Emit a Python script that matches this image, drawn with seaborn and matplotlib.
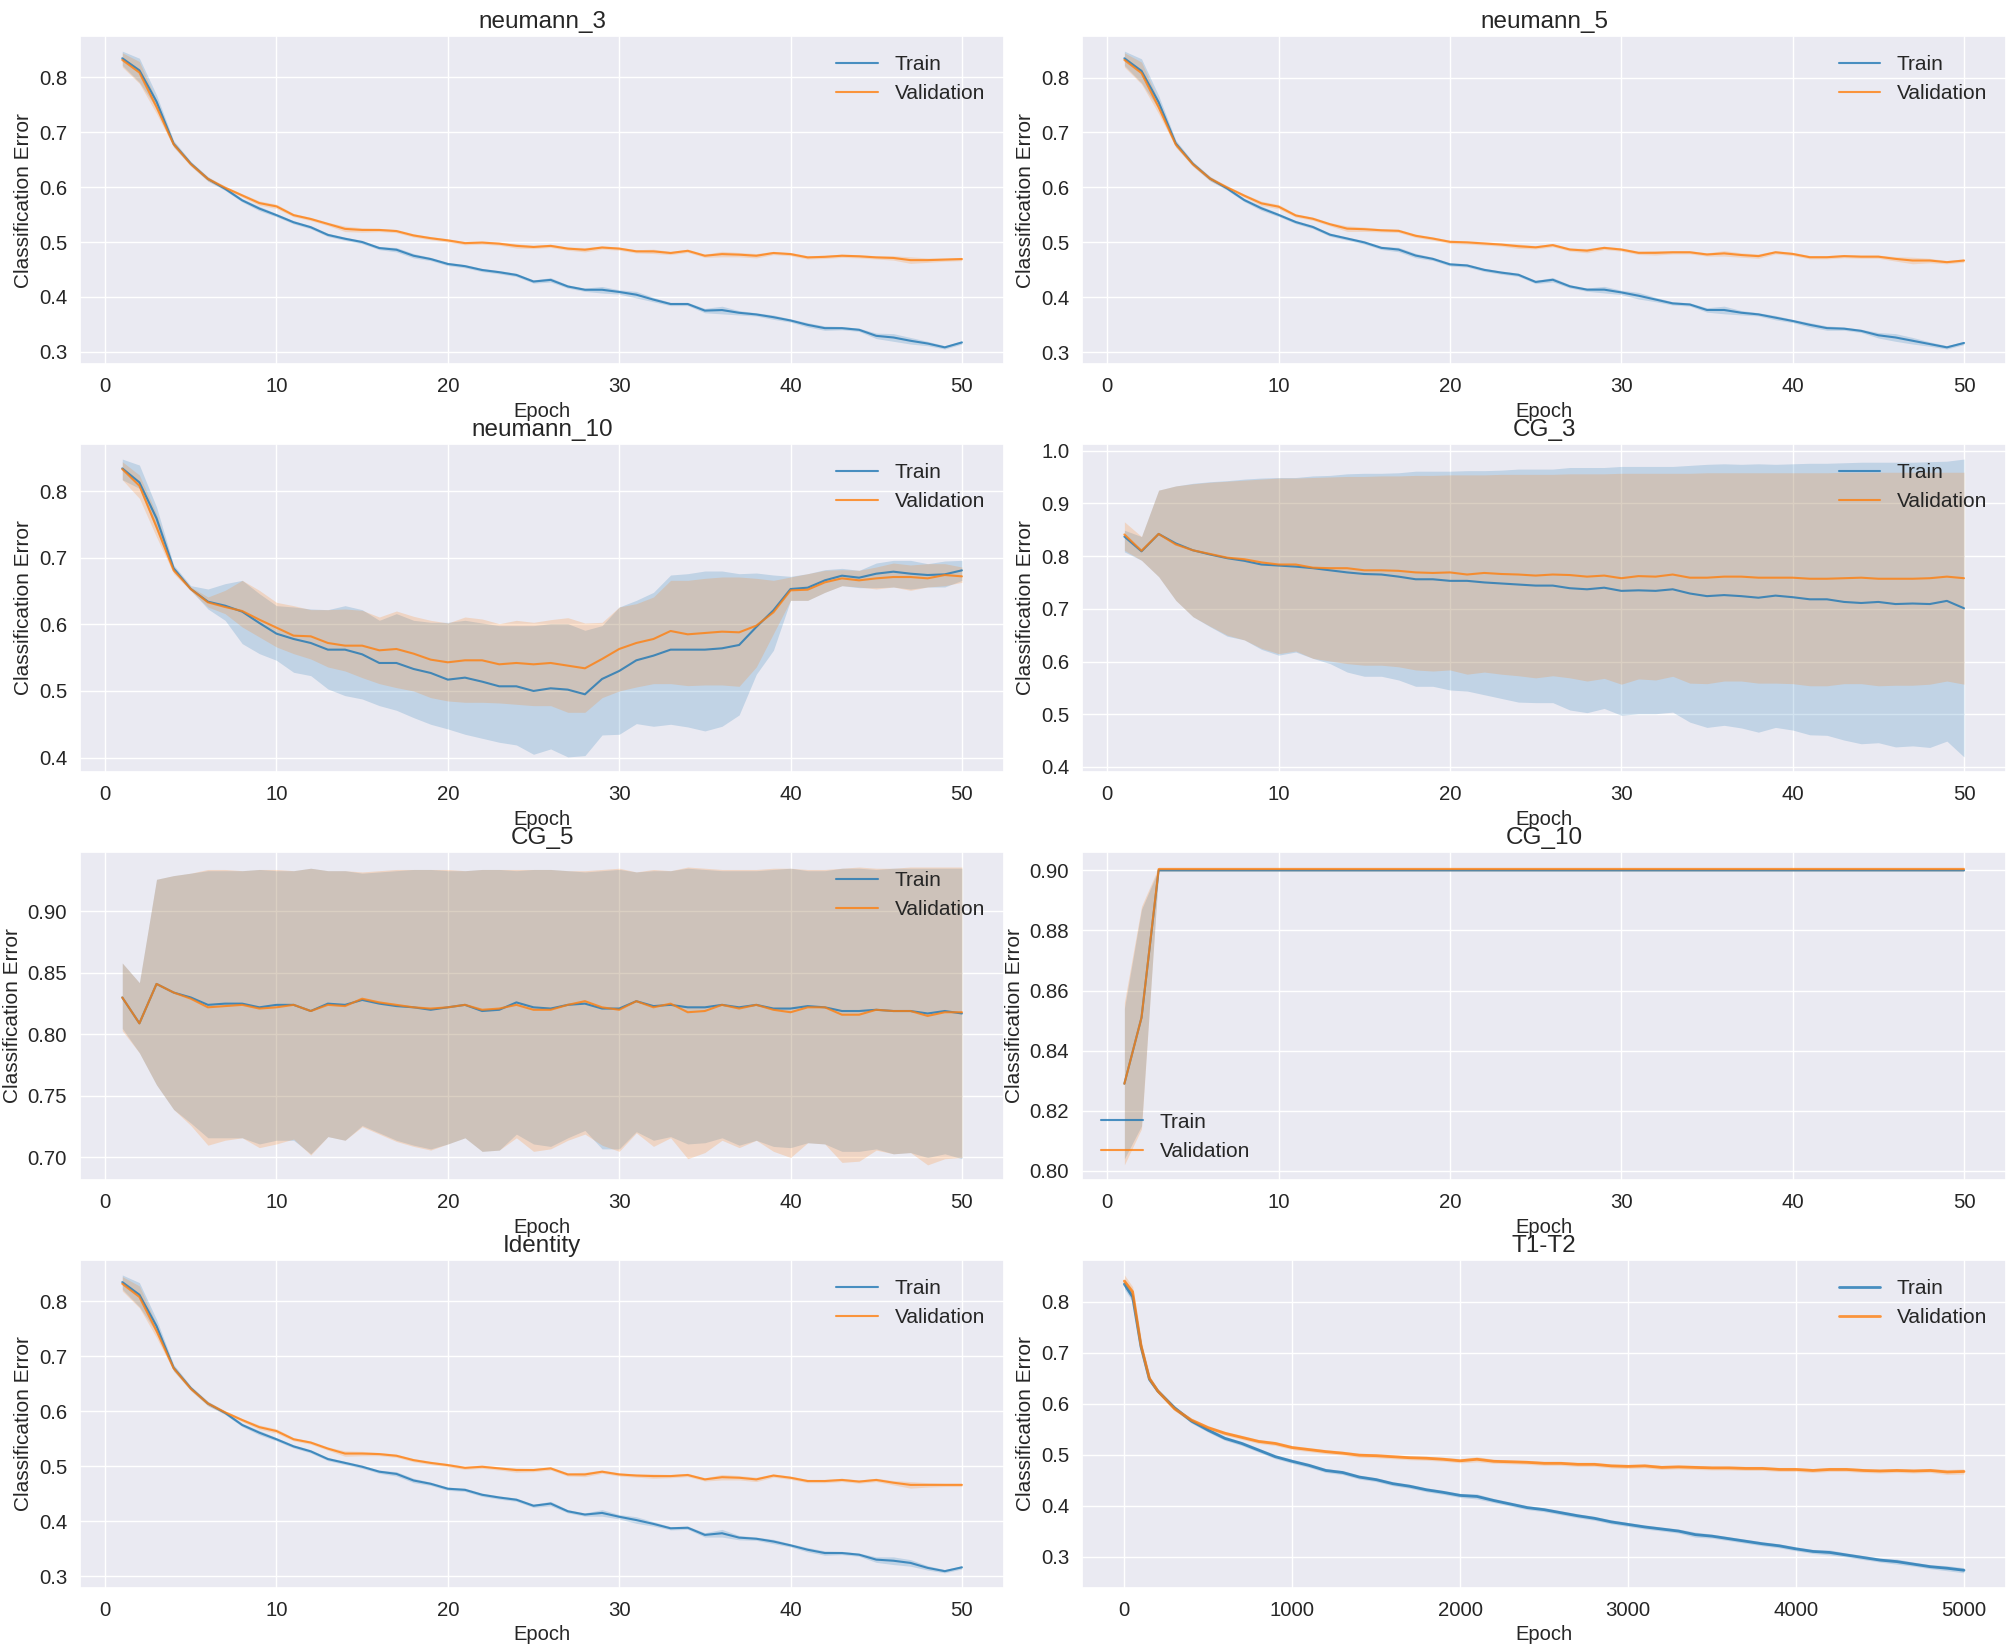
import numpy as np
import pandas as pd
import matplotlib
matplotlib.use("Agg")
import matplotlib.pyplot as plt
import seaborn as sns

# ---- data ----
epochs = list(range(1, 51))

# neumann_3
n3_train = [0.835, 0.813, 0.756, 0.679, 0.643, 0.615, 0.597, 0.576, 0.561, 0.549,
            0.536, 0.527, 0.513, 0.506, 0.500, 0.489, 0.486, 0.475, 0.469, 0.460,
            0.456, 0.449, 0.445, 0.440, 0.428, 0.431, 0.419, 0.413, 0.413, 0.409,
            0.404, 0.395, 0.387, 0.387, 0.375, 0.376, 0.371, 0.368, 0.363, 0.357,
            0.349, 0.343, 0.343, 0.340, 0.329, 0.326, 0.320, 0.315, 0.308, 0.317]
n3_val = [0.832, 0.809, 0.746, 0.678, 0.642, 0.615, 0.599, 0.585, 0.571, 0.565,
          0.549, 0.542, 0.533, 0.524, 0.522, 0.522, 0.520, 0.512, 0.507, 0.503,
          0.498, 0.499, 0.497, 0.493, 0.491, 0.493, 0.488, 0.486, 0.490, 0.488,
          0.483, 0.483, 0.480, 0.484, 0.475, 0.478, 0.477, 0.475, 0.480, 0.478,
          0.472, 0.473, 0.475, 0.474, 0.472, 0.471, 0.467, 0.467, 0.468, 0.469]

# neumann_5
n5_train = [0.835, 0.812, 0.755, 0.680, 0.643, 0.616, 0.598, 0.577, 0.562, 0.550,
            0.537, 0.528, 0.514, 0.507, 0.500, 0.490, 0.487, 0.476, 0.470, 0.460,
            0.458, 0.450, 0.445, 0.441, 0.428, 0.432, 0.420, 0.414, 0.414, 0.409,
            0.403, 0.396, 0.389, 0.387, 0.377, 0.377, 0.372, 0.369, 0.363, 0.357,
            0.350, 0.344, 0.343, 0.339, 0.331, 0.327, 0.321, 0.315, 0.309, 0.317]
n5_val = [0.832, 0.808, 0.746, 0.678, 0.642, 0.616, 0.600, 0.585, 0.571, 0.565,
          0.549, 0.543, 0.533, 0.525, 0.524, 0.522, 0.521, 0.512, 0.507, 0.501,
          0.500, 0.498, 0.496, 0.493, 0.491, 0.495, 0.487, 0.485, 0.490, 0.487,
          0.481, 0.481, 0.482, 0.482, 0.478, 0.480, 0.477, 0.475, 0.482, 0.479,
          0.473, 0.473, 0.475, 0.474, 0.474, 0.470, 0.467, 0.467, 0.464, 0.467]

# Identity
id_train = [0.835, 0.812, 0.755, 0.679, 0.642, 0.614, 0.597, 0.575, 0.561, 0.549,
            0.536, 0.527, 0.513, 0.506, 0.499, 0.490, 0.486, 0.474, 0.468, 0.459,
            0.457, 0.448, 0.443, 0.439, 0.428, 0.432, 0.418, 0.412, 0.415, 0.408,
            0.402, 0.395, 0.387, 0.388, 0.375, 0.378, 0.370, 0.368, 0.363, 0.356,
            0.348, 0.342, 0.342, 0.339, 0.330, 0.328, 0.324, 0.315, 0.309, 0.316]
id_val = [0.832, 0.808, 0.746, 0.678, 0.641, 0.614, 0.598, 0.584, 0.571, 0.564,
          0.549, 0.543, 0.532, 0.523, 0.523, 0.522, 0.519, 0.511, 0.506, 0.502,
          0.497, 0.499, 0.496, 0.493, 0.493, 0.496, 0.485, 0.485, 0.490, 0.485,
          0.483, 0.482, 0.482, 0.484, 0.476, 0.480, 0.479, 0.476, 0.483, 0.479,
          0.473, 0.473, 0.475, 0.472, 0.475, 0.470, 0.466, 0.466, 0.466, 0.466]

# half widths of the (narrow) bands, same look in neumann_3 / neumann_5 / Identity
narrow_train_w = [0.013, 0.022, 0.012, 0.006, 0.004, 0.004, 0.003, 0.003, 0.004, 0.003,
                  0.003, 0.003, 0.003, 0.003, 0.003, 0.003, 0.004, 0.004, 0.003, 0.003,
                  0.003, 0.003, 0.003, 0.003, 0.003, 0.004, 0.003, 0.003, 0.006, 0.004,
                  0.006, 0.004, 0.003, 0.003, 0.004, 0.007, 0.004, 0.003, 0.004, 0.003,
                  0.004, 0.004, 0.003, 0.003, 0.005, 0.007, 0.006, 0.004, 0.003, 0.003]
narrow_val_w = [0.013, 0.020, 0.012, 0.005, 0.004, 0.004, 0.003, 0.003, 0.004, 0.004,
                0.003, 0.003, 0.003, 0.005, 0.004, 0.003, 0.003, 0.003, 0.003, 0.003,
                0.003, 0.003, 0.003, 0.004, 0.003, 0.003, 0.003, 0.004, 0.003, 0.003,
                0.003, 0.004, 0.003, 0.003, 0.003, 0.005, 0.004, 0.004, 0.003, 0.003,
                0.003, 0.003, 0.003, 0.003, 0.003, 0.004, 0.006, 0.004, 0.003, 0.003]

# neumann_10
n10_train = [0.834, 0.813, 0.759, 0.684, 0.653, 0.634, 0.628, 0.619, 0.602, 0.586,
             0.578, 0.572, 0.562, 0.562, 0.555, 0.542, 0.542, 0.533, 0.527, 0.517,
             0.520, 0.514, 0.507, 0.507, 0.500, 0.504, 0.502, 0.495, 0.518, 0.530,
             0.546, 0.553, 0.562, 0.562, 0.562, 0.564, 0.569, 0.596, 0.621, 0.653,
             0.655, 0.666, 0.673, 0.670, 0.676, 0.679, 0.676, 0.674, 0.675, 0.681]
n10_train_lo = [0.817, 0.804, 0.741, 0.679, 0.651, 0.623, 0.606, 0.571, 0.556, 0.546,
                0.528, 0.523, 0.503, 0.493, 0.488, 0.478, 0.471, 0.460, 0.450, 0.443,
                0.435, 0.429, 0.423, 0.419, 0.405, 0.413, 0.401, 0.403, 0.434, 0.435,
                0.451, 0.447, 0.450, 0.446, 0.440, 0.447, 0.464, 0.525, 0.561, 0.636,
                0.636, 0.648, 0.658, 0.655, 0.655, 0.656, 0.653, 0.656, 0.656, 0.666]
n10_train_hi = [0.848, 0.839, 0.776, 0.689, 0.658, 0.653, 0.661, 0.666, 0.646, 0.628,
                0.626, 0.623, 0.622, 0.628, 0.622, 0.606, 0.616, 0.606, 0.603, 0.603,
                0.606, 0.602, 0.598, 0.598, 0.598, 0.601, 0.601, 0.591, 0.598, 0.626,
                0.636, 0.648, 0.674, 0.676, 0.680, 0.680, 0.676, 0.677, 0.674, 0.672,
                0.676, 0.682, 0.684, 0.681, 0.692, 0.696, 0.696, 0.691, 0.695, 0.696]
n10_val = [0.833, 0.808, 0.746, 0.681, 0.653, 0.633, 0.626, 0.620, 0.607, 0.595,
           0.583, 0.582, 0.572, 0.568, 0.568, 0.561, 0.563, 0.556, 0.547, 0.543,
           0.546, 0.546, 0.540, 0.542, 0.540, 0.542, 0.538, 0.534, 0.548, 0.563,
           0.572, 0.578, 0.590, 0.585, 0.587, 0.589, 0.588, 0.598, 0.618, 0.651,
           0.652, 0.663, 0.669, 0.666, 0.669, 0.671, 0.671, 0.669, 0.674, 0.672]
n10_val_lo = [0.817, 0.789, 0.731, 0.676, 0.650, 0.626, 0.616, 0.596, 0.581, 0.566,
              0.556, 0.548, 0.536, 0.530, 0.520, 0.511, 0.505, 0.500, 0.490, 0.485,
              0.483, 0.483, 0.482, 0.480, 0.478, 0.478, 0.468, 0.468, 0.490, 0.500,
              0.506, 0.511, 0.511, 0.508, 0.509, 0.509, 0.507, 0.536, 0.586, 0.636,
              0.636, 0.648, 0.658, 0.656, 0.653, 0.656, 0.651, 0.656, 0.658, 0.663]
n10_val_hi = [0.844, 0.824, 0.766, 0.686, 0.656, 0.641, 0.651, 0.666, 0.651, 0.633,
              0.628, 0.622, 0.622, 0.623, 0.621, 0.611, 0.620, 0.612, 0.606, 0.602,
              0.611, 0.608, 0.601, 0.606, 0.603, 0.607, 0.610, 0.602, 0.603, 0.626,
              0.631, 0.641, 0.666, 0.666, 0.669, 0.671, 0.671, 0.669, 0.666, 0.671,
              0.676, 0.681, 0.682, 0.681, 0.686, 0.692, 0.689, 0.691, 0.691, 0.686]

# CG_3
cg3_train = [0.837, 0.809, 0.842, 0.824, 0.811, 0.803, 0.796, 0.791, 0.784, 0.782,
             0.780, 0.777, 0.773, 0.769, 0.766, 0.765, 0.761, 0.756, 0.756, 0.753,
             0.753, 0.750, 0.748, 0.746, 0.744, 0.744, 0.739, 0.737, 0.740, 0.734,
             0.735, 0.734, 0.737, 0.729, 0.724, 0.726, 0.724, 0.721, 0.725, 0.722,
             0.718, 0.718, 0.713, 0.711, 0.713, 0.709, 0.710, 0.709, 0.715, 0.701]
cg3_train_lo = [0.808, 0.792, 0.761, 0.716, 0.685, 0.666, 0.648, 0.641, 0.623, 0.612,
                0.618, 0.606, 0.596, 0.580, 0.572, 0.572, 0.565, 0.553, 0.553, 0.546,
                0.544, 0.537, 0.530, 0.523, 0.522, 0.522, 0.508, 0.503, 0.511, 0.498,
                0.501, 0.501, 0.504, 0.485, 0.475, 0.479, 0.474, 0.466, 0.475, 0.470,
                0.461, 0.460, 0.451, 0.444, 0.446, 0.438, 0.440, 0.437, 0.449, 0.419]
cg3_train_hi = [0.849, 0.837, 0.925, 0.933, 0.938, 0.941, 0.943, 0.946, 0.948, 0.949,
                0.949, 0.952, 0.953, 0.956, 0.957, 0.957, 0.958, 0.961, 0.961, 0.961,
                0.962, 0.962, 0.963, 0.965, 0.965, 0.965, 0.968, 0.968, 0.968, 0.970,
                0.970, 0.970, 0.970, 0.972, 0.974, 0.975, 0.974, 0.975, 0.974, 0.975,
                0.976, 0.976, 0.977, 0.978, 0.978, 0.978, 0.978, 0.979, 0.980, 0.984]
cg3_val = [0.841, 0.810, 0.842, 0.822, 0.811, 0.804, 0.797, 0.794, 0.788, 0.784,
           0.784, 0.778, 0.777, 0.777, 0.773, 0.773, 0.772, 0.769, 0.768, 0.769,
           0.765, 0.768, 0.766, 0.765, 0.763, 0.765, 0.764, 0.761, 0.763, 0.758,
           0.762, 0.761, 0.765, 0.759, 0.759, 0.761, 0.761, 0.759, 0.759, 0.759,
           0.757, 0.757, 0.758, 0.759, 0.757, 0.757, 0.757, 0.758, 0.761, 0.758]
cg3_val_lo = [0.811, 0.792, 0.761, 0.716, 0.685, 0.667, 0.650, 0.641, 0.625, 0.615,
              0.620, 0.606, 0.601, 0.596, 0.593, 0.593, 0.590, 0.584, 0.582, 0.584,
              0.576, 0.580, 0.576, 0.573, 0.569, 0.573, 0.569, 0.563, 0.568, 0.557,
              0.567, 0.565, 0.572, 0.559, 0.558, 0.563, 0.563, 0.559, 0.559, 0.558,
              0.554, 0.554, 0.558, 0.558, 0.554, 0.555, 0.555, 0.557, 0.563, 0.557]
cg3_val_hi = [0.865, 0.837, 0.925, 0.933, 0.937, 0.940, 0.942, 0.944, 0.946, 0.948,
              0.948, 0.949, 0.950, 0.951, 0.951, 0.952, 0.952, 0.953, 0.953, 0.954,
              0.954, 0.954, 0.955, 0.955, 0.955, 0.955, 0.956, 0.956, 0.956, 0.957,
              0.957, 0.957, 0.957, 0.957, 0.958, 0.958, 0.958, 0.958, 0.958, 0.958,
              0.958, 0.958, 0.959, 0.959, 0.959, 0.959, 0.959, 0.959, 0.959, 0.959]

# CG_5
cg5_train = [0.830, 0.809, 0.841, 0.834, 0.830, 0.824, 0.825, 0.825, 0.822, 0.824,
             0.824, 0.819, 0.825, 0.824, 0.828, 0.825, 0.823, 0.822, 0.820, 0.822,
             0.824, 0.819, 0.820, 0.826, 0.822, 0.821, 0.824, 0.825, 0.821, 0.821,
             0.827, 0.823, 0.824, 0.822, 0.822, 0.824, 0.822, 0.824, 0.821, 0.821,
             0.823, 0.822, 0.819, 0.819, 0.820, 0.819, 0.819, 0.817, 0.819, 0.817]
cg5_train_lo = [0.805, 0.785, 0.759, 0.739, 0.728, 0.716, 0.716, 0.716, 0.711, 0.714,
                0.714, 0.703, 0.717, 0.714, 0.726, 0.720, 0.714, 0.710, 0.707, 0.711,
                0.716, 0.705, 0.706, 0.719, 0.711, 0.709, 0.716, 0.722, 0.707, 0.707,
                0.721, 0.714, 0.717, 0.711, 0.712, 0.716, 0.710, 0.714, 0.709, 0.708,
                0.712, 0.711, 0.705, 0.705, 0.707, 0.703, 0.704, 0.700, 0.703, 0.699]
cg5_train_hi = [0.858, 0.842, 0.926, 0.929, 0.931, 0.933, 0.933, 0.933, 0.934, 0.933,
                0.933, 0.935, 0.933, 0.933, 0.931, 0.932, 0.933, 0.934, 0.934, 0.933,
                0.933, 0.934, 0.934, 0.933, 0.934, 0.934, 0.933, 0.932, 0.933, 0.934,
                0.932, 0.933, 0.933, 0.935, 0.934, 0.933, 0.933, 0.933, 0.934, 0.935,
                0.933, 0.933, 0.935, 0.935, 0.934, 0.935, 0.935, 0.935, 0.935, 0.935]
cg5_val = [0.830, 0.809, 0.841, 0.834, 0.829, 0.822, 0.823, 0.824, 0.821, 0.822,
           0.824, 0.819, 0.824, 0.823, 0.829, 0.826, 0.824, 0.822, 0.821, 0.822,
           0.824, 0.820, 0.821, 0.824, 0.820, 0.820, 0.824, 0.827, 0.822, 0.820,
           0.827, 0.822, 0.825, 0.818, 0.819, 0.824, 0.821, 0.824, 0.820, 0.818,
           0.822, 0.822, 0.816, 0.816, 0.820, 0.819, 0.819, 0.815, 0.818, 0.818]
cg5_val_lo = [0.803, 0.785, 0.759, 0.739, 0.726, 0.710, 0.714, 0.716, 0.708, 0.711,
              0.715, 0.702, 0.717, 0.714, 0.725, 0.719, 0.713, 0.709, 0.706, 0.711,
              0.716, 0.705, 0.706, 0.716, 0.705, 0.707, 0.714, 0.719, 0.710, 0.705,
              0.720, 0.709, 0.716, 0.699, 0.704, 0.714, 0.708, 0.714, 0.705, 0.700,
              0.712, 0.711, 0.696, 0.697, 0.706, 0.703, 0.704, 0.694, 0.699, 0.700]
cg5_val_hi = [0.858, 0.842, 0.926, 0.929, 0.931, 0.934, 0.934, 0.933, 0.934, 0.934,
              0.933, 0.935, 0.933, 0.933, 0.932, 0.933, 0.934, 0.934, 0.934, 0.934,
              0.933, 0.934, 0.934, 0.934, 0.934, 0.934, 0.933, 0.933, 0.934, 0.935,
              0.932, 0.934, 0.933, 0.936, 0.935, 0.934, 0.934, 0.934, 0.935, 0.935,
              0.934, 0.934, 0.935, 0.936, 0.935, 0.935, 0.936, 0.936, 0.936, 0.936]

# CG_10 (jumps to a flat 0.900 after epoch 3)
cg10_train = [0.829, 0.851, 0.900, 0.900, 0.900, 0.900, 0.900, 0.900, 0.900, 0.900,
              0.900, 0.900, 0.900, 0.900, 0.900, 0.900, 0.900, 0.900, 0.900, 0.900,
              0.900, 0.900, 0.900, 0.900, 0.900, 0.900, 0.900, 0.900, 0.900, 0.900,
              0.900, 0.900, 0.900, 0.900, 0.900, 0.900, 0.900, 0.900, 0.900, 0.900,
              0.900, 0.900, 0.900, 0.900, 0.900, 0.900, 0.900, 0.900, 0.900, 0.900]
cg10_val = [0.829, 0.851, 0.9004, 0.9004, 0.9004, 0.9004, 0.9004, 0.9004, 0.9004, 0.9004,
            0.9004, 0.9004, 0.9004, 0.9004, 0.9004, 0.9004, 0.9004, 0.9004, 0.9004, 0.9004,
            0.9004, 0.9004, 0.9004, 0.9004, 0.9004, 0.9004, 0.9004, 0.9004, 0.9004, 0.9004,
            0.9004, 0.9004, 0.9004, 0.9004, 0.9004, 0.9004, 0.9004, 0.9004, 0.9004, 0.9004,
            0.9004, 0.9004, 0.9004, 0.9004, 0.9004, 0.9004, 0.9004, 0.9004, 0.9004, 0.9004]
cg10_train_w = [0.025, 0.036, 0.0003, 0.0003, 0.0003, 0.0003, 0.0003, 0.0003, 0.0003, 0.0003,
                0.0003, 0.0003, 0.0003, 0.0003, 0.0003, 0.0003, 0.0003, 0.0003, 0.0003, 0.0003,
                0.0003, 0.0003, 0.0003, 0.0003, 0.0003, 0.0003, 0.0003, 0.0003, 0.0003, 0.0003,
                0.0003, 0.0003, 0.0003, 0.0003, 0.0003, 0.0003, 0.0003, 0.0003, 0.0003, 0.0003,
                0.0003, 0.0003, 0.0003, 0.0003, 0.0003, 0.0003, 0.0003, 0.0003, 0.0003, 0.0003]
cg10_val_w = [0.027, 0.037, 0.0007, 0.0007, 0.0007, 0.0007, 0.0007, 0.0007, 0.0007, 0.0007,
              0.0007, 0.0007, 0.0007, 0.0007, 0.0007, 0.0007, 0.0007, 0.0007, 0.0007, 0.0007,
              0.0007, 0.0007, 0.0007, 0.0007, 0.0007, 0.0007, 0.0007, 0.0007, 0.0007, 0.0007,
              0.0007, 0.0007, 0.0007, 0.0007, 0.0007, 0.0007, 0.0007, 0.0007, 0.0007, 0.0007,
              0.0007, 0.0007, 0.0007, 0.0007, 0.0007, 0.0007, 0.0007, 0.0007, 0.0007, 0.0007]

# T1-T2 (5000 epochs, sampled)
t12_epochs = [1, 50, 100, 150, 200, 300, 400, 500, 600, 700,
              800, 900, 1000, 1100, 1200, 1300, 1400, 1500, 1600, 1700,
              1800, 1900, 2000, 2100, 2200, 2300, 2400, 2500, 2600, 2700,
              2800, 2900, 3000, 3100, 3200, 3300, 3400, 3500, 3600, 3700,
              3800, 3900, 4000, 4100, 4200, 4300, 4400, 4500, 4600, 4700,
              4800, 4900, 5000]
t12_train = [0.835, 0.810, 0.712, 0.648, 0.625, 0.592, 0.566, 0.548, 0.532, 0.522,
             0.509, 0.496, 0.487, 0.479, 0.469, 0.465, 0.456, 0.451, 0.443, 0.438,
             0.431, 0.426, 0.420, 0.418, 0.410, 0.403, 0.396, 0.392, 0.386, 0.380,
             0.375, 0.368, 0.363, 0.358, 0.354, 0.350, 0.343, 0.340, 0.335, 0.330,
             0.325, 0.321, 0.315, 0.310, 0.308, 0.303, 0.298, 0.293, 0.290, 0.285,
             0.280, 0.277, 0.273]
t12_val = [0.841, 0.820, 0.715, 0.650, 0.625, 0.590, 0.568, 0.553, 0.542, 0.534,
           0.526, 0.522, 0.514, 0.510, 0.506, 0.503, 0.499, 0.498, 0.496, 0.494,
           0.493, 0.491, 0.488, 0.491, 0.487, 0.486, 0.485, 0.483, 0.483, 0.481,
           0.481, 0.478, 0.477, 0.478, 0.475, 0.476, 0.475, 0.474, 0.474, 0.473,
           0.473, 0.471, 0.471, 0.469, 0.471, 0.471, 0.469, 0.468, 0.469, 0.468,
           0.469, 0.466, 0.467]
t12_train_w = [0.010, 0.010, 0.006, 0.005, 0.004, 0.004, 0.004, 0.004, 0.004, 0.004,
               0.004, 0.004, 0.004, 0.004, 0.004, 0.004, 0.004, 0.004, 0.004, 0.004,
               0.004, 0.004, 0.004, 0.005, 0.004, 0.004, 0.004, 0.004, 0.004, 0.004,
               0.004, 0.004, 0.004, 0.004, 0.004, 0.004, 0.005, 0.004, 0.004, 0.004,
               0.004, 0.004, 0.004, 0.004, 0.005, 0.004, 0.004, 0.004, 0.005, 0.004,
               0.004, 0.005, 0.005]
t12_val_w = [0.012, 0.010, 0.006, 0.005, 0.004, 0.004, 0.004, 0.004, 0.004, 0.004,
             0.004, 0.004, 0.004, 0.004, 0.004, 0.004, 0.004, 0.004, 0.004, 0.004,
             0.004, 0.004, 0.004, 0.005, 0.004, 0.004, 0.004, 0.004, 0.004, 0.004,
             0.004, 0.004, 0.004, 0.004, 0.004, 0.004, 0.004, 0.004, 0.004, 0.004,
             0.004, 0.004, 0.004, 0.004, 0.004, 0.004, 0.004, 0.004, 0.004, 0.004,
             0.004, 0.005, 0.005]

# ---- plotting ----
sns.set_theme(style="darkgrid")
plt.rcParams["font.family"] = ["Liberation Sans", "DejaVu Sans"]

TRAIN_C = "#1f77b4"
VAL_C = "#ff7f0e"


def band(mean, w):
    m = np.array(mean)
    w = np.array(w)
    return m - w, m + w


def draw(ax, x, tr, tr_lo, tr_hi, va, va_lo, va_hi, title, loc="upper right", lw=1.5):
    sns.lineplot(x=x, y=tr, ax=ax, color=TRAIN_C, alpha=0.8, linewidth=lw, label="Train")
    ax.fill_between(x, tr_lo, tr_hi, color=TRAIN_C, alpha=0.2, linewidth=0)
    sns.lineplot(x=x, y=va, ax=ax, color=VAL_C, alpha=0.8, linewidth=lw, label="Validation")
    ax.fill_between(x, va_lo, va_hi, color=VAL_C, alpha=0.2, linewidth=0)
    ax.set_title(title, fontsize=17.5)
    ax.set_xlabel("Epoch", fontsize=14.5)
    ax.set_ylabel("Classification Error", fontsize=15)
    ax.tick_params(labelsize=14.7)
    ax.legend(loc=loc, fontsize=15, frameon=False)


fig, axes = plt.subplots(4, 2, figsize=(20.07, 16.47), dpi=100)

draw(axes[0, 0], epochs, n3_train, *band(n3_train, narrow_train_w),
     n3_val, *band(n3_val, narrow_val_w), "neumann_3")
draw(axes[0, 1], epochs, n5_train, *band(n5_train, narrow_train_w),
     n5_val, *band(n5_val, narrow_val_w), "neumann_5")
draw(axes[1, 0], epochs, n10_train, n10_train_lo, n10_train_hi,
     n10_val, n10_val_lo, n10_val_hi, "neumann_10")
draw(axes[1, 1], epochs, cg3_train, cg3_train_lo, cg3_train_hi,
     cg3_val, cg3_val_lo, cg3_val_hi, "CG_3")
draw(axes[2, 0], epochs, cg5_train, cg5_train_lo, cg5_train_hi,
     cg5_val, cg5_val_lo, cg5_val_hi, "CG_5")
draw(axes[2, 1], epochs, cg10_train, *band(cg10_train, cg10_train_w),
     cg10_val, *band(cg10_val, cg10_val_w), "CG_10", loc="lower left")
draw(axes[3, 0], epochs, id_train, *band(id_train, narrow_train_w),
     id_val, *band(id_val, narrow_val_w), "Identity")
draw(axes[3, 1], t12_epochs, t12_train, *band(t12_train, t12_train_w),
     t12_val, *band(t12_val, t12_val_w), "T1-T2", lw=2.0)

plt.subplots_adjust(left=0.040, right=0.9995, bottom=0.036, top=0.978,
                    hspace=0.245, wspace=0.085)
plt.savefig("out.png", dpi=100)
